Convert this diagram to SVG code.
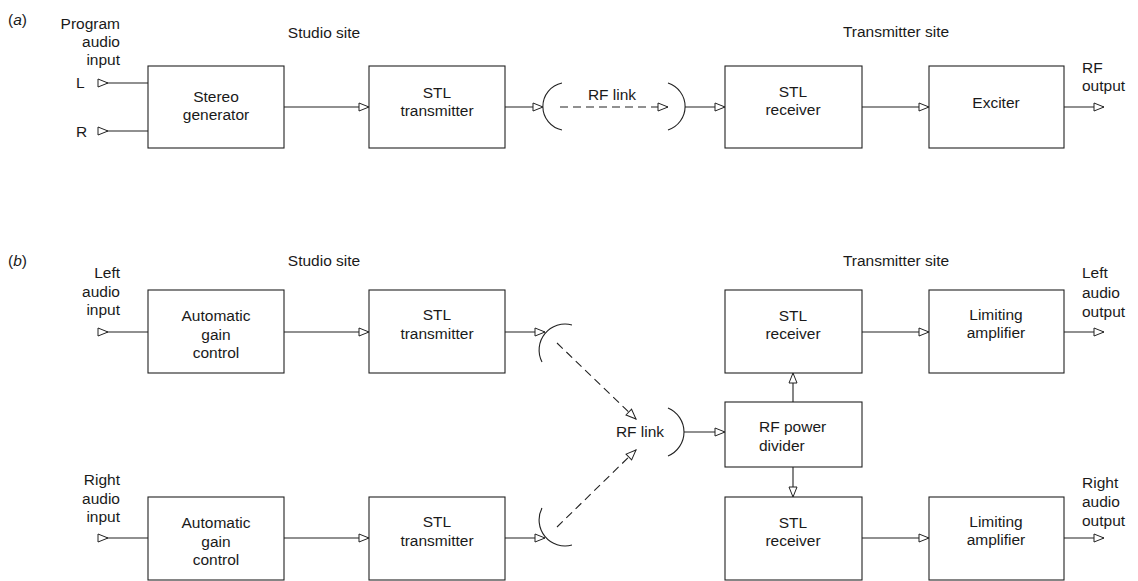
<svg xmlns="http://www.w3.org/2000/svg" width="1138" height="581" viewBox="0 0 1138 581">
<defs>
<style>
text{font-family:"Liberation Sans",Arial,sans-serif;font-size:15.5px;fill:#1a1a1a}
.c{text-anchor:middle}
.r{text-anchor:end}
rect{fill:#fff;stroke:#222;stroke-width:1.1}
.w{fill:none;stroke:#222;stroke-width:1.1}
.d{fill:none;stroke:#222;stroke-width:1.1;stroke-dasharray:8 5}
.ae{marker-end:url(#ah)}
.as{marker-start:url(#ai)}
</style>
<marker id="ah" markerUnits="userSpaceOnUse" markerWidth="12" markerHeight="10" refX="10" refY="4" orient="auto" overflow="visible">
<path d="M0,0 L10,4 L0,8 Z" fill="#fff" stroke="#222" stroke-width="1"/>
</marker>
<marker id="ai" markerUnits="userSpaceOnUse" markerWidth="12" markerHeight="10" refX="0" refY="4" orient="auto" overflow="visible">
<path d="M0,0 L10,4 L0,8 Z" fill="#fff" stroke="#222" stroke-width="1"/>
</marker>
</defs>
<rect x="0" y="0" width="1138" height="581" style="fill:#fff;stroke:none"/>

<!-- (a) labels -->
<g id="labels-a">
<text x="8" y="25">(<tspan font-style="italic">a</tspan>)</text>
<text class="c" x="324" y="38">Studio site</text>
<text class="c" x="896" y="37">Transmitter site</text>
<text class="r" x="120" y="29">Program</text>
<text class="r" x="120" y="47">audio</text>
<text class="r" x="120" y="65">input</text>
<text x="76" y="88">L</text>
<text x="76" y="137">R</text>
<text x="1082" y="73">RF</text>
<text x="1082" y="91">output</text>
</g>

<g id="a-stereo-generator"><rect x="148" y="66" width="136" height="82"/><text class="c" x="216" y="102">Stereo</text><text class="c" x="216" y="120">generator</text></g>
<g id="a-stl-transmitter"><rect x="369" y="66" width="136" height="82"/><text class="c" x="437" y="98">STL</text><text class="c" x="437" y="116">transmitter</text></g>
<g id="a-rf-link"><path class="w" d="M562,83 A24,24 0 0 0 562,130"/><path class="w" d="M668,83 A24.7,24.7 0 0 1 668,130"/><text class="c" x="612" y="100">RF link</text></g>
<g id="a-stl-receiver"><rect x="725" y="66" width="137" height="82"/><text class="c" x="793" y="97">STL</text><text class="c" x="793" y="115">receiver</text></g>
<g id="a-exciter"><rect x="929" y="66" width="135" height="82"/><text class="c" x="996" y="108">Exciter</text></g>

<g id="connectors-a">
<path class="w as" d="M98,83 H148"/>
<path class="w as" d="M98,131 H148"/>
<path class="w ae" d="M284,107 H369"/>
<path class="w ae" d="M505,107 H543"/>
<path class="d ae" d="M560,107 H668"/>
<path class="w ae" d="M685,107 H725"/>
<path class="w ae" d="M862,107 H929"/>
<path class="w ae" d="M1064,107 H1104"/>
</g>

<!-- (b) labels -->
<g id="labels-b">
<text x="8" y="266">(<tspan font-style="italic">b</tspan>)</text>
<text class="c" x="324" y="266">Studio site</text>
<text class="c" x="896" y="266">Transmitter site</text>
<text class="r" x="120" y="278">Left</text>
<text class="r" x="120" y="297">audio</text>
<text class="r" x="120" y="315">input</text>
<text class="r" x="120" y="485">Right</text>
<text class="r" x="120" y="504">audio</text>
<text class="r" x="120" y="522">input</text>
<text x="1082" y="278">Left</text>
<text x="1082" y="298">audio</text>
<text x="1082" y="317">output</text>
<text x="1082" y="488">Right</text>
<text x="1082" y="507">audio</text>
<text x="1082" y="526">output</text>
</g>

<g id="b-agc-left"><rect x="148" y="290" width="136" height="83"/><text class="c" x="216" y="321">Automatic</text><text class="c" x="216" y="339.5">gain</text><text class="c" x="216" y="358">control</text></g>
<g id="b-stl-transmitter-left"><rect x="369" y="290" width="136" height="83"/><text class="c" x="437" y="320">STL</text><text class="c" x="437" y="339">transmitter</text></g>
<g id="b-agc-right"><rect x="148" y="497" width="136" height="83"/><text class="c" x="216" y="528">Automatic</text><text class="c" x="216" y="546.5">gain</text><text class="c" x="216" y="565">control</text></g>
<g id="b-stl-transmitter-right"><rect x="369" y="497" width="136" height="83"/><text class="c" x="437" y="527">STL</text><text class="c" x="437" y="546">transmitter</text></g>
<g id="b-dish-upper"><path class="w" d="M572,325 A26,26 0 0 0 542,362"/></g>
<g id="b-dish-lower"><path class="w" d="M542,508 A26,26 0 0 0 572,545"/></g>
<g id="b-rf-link"><text class="c" x="640" y="437">RF link</text><path class="w" d="M668,408 A26,26 0 0 1 668,456"/></g>
<g id="b-rf-power-divider"><rect x="725" y="402" width="137" height="65"/><text x="759" y="432">RF power</text><text x="759" y="451">divider</text></g>
<g id="b-stl-receiver-left"><rect x="725" y="290" width="137" height="83"/><text class="c" x="793" y="321">STL</text><text class="c" x="793" y="339">receiver</text></g>
<g id="b-stl-receiver-right"><rect x="725" y="497" width="137" height="83"/><text class="c" x="793" y="528">STL</text><text class="c" x="793" y="546">receiver</text></g>
<g id="b-limiting-left"><rect x="929" y="290" width="135" height="83"/><text class="c" x="996" y="320">Limiting</text><text class="c" x="996" y="338">amplifier</text></g>
<g id="b-limiting-right"><rect x="929" y="497" width="135" height="83"/><text class="c" x="996" y="527">Limiting</text><text class="c" x="996" y="545">amplifier</text></g>

<g id="connectors-b">
<path class="w as" d="M98,332 H148"/>
<path class="w as" d="M98,538 H148"/>
<path class="w ae" d="M284,332 H369"/>
<path class="w ae" d="M284,538 H369"/>
<path class="w ae" d="M505,332 H545"/>
<path class="w ae" d="M505,538 H545"/>
<path class="d ae" d="M557,343 L636,419"/>
<path class="d ae" d="M557,527 L636,450"/>
<path class="w ae" d="M684,432 H725"/>
<path class="w ae" d="M793,402 V373"/>
<path class="w ae" d="M793,467 V497"/>
<path class="w ae" d="M862,332 H929"/>
<path class="w ae" d="M862,538 H929"/>
<path class="w ae" d="M1064,332 H1104"/>
<path class="w ae" d="M1064,538 H1104"/>
</g>
</svg>
